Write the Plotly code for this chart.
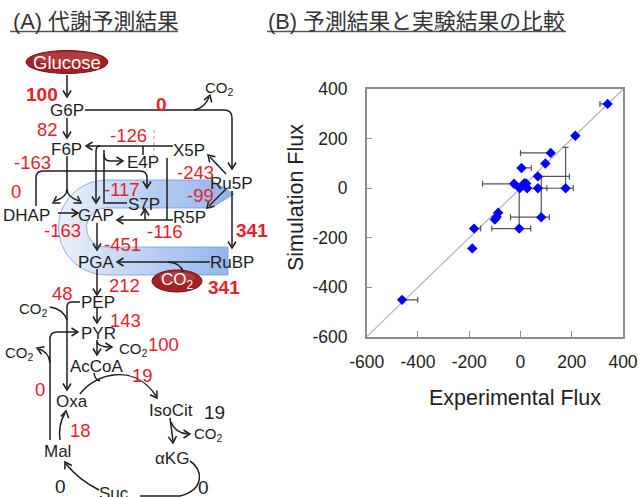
import numpy as np
import plotly.graph_objects as go

# ---------------- data ----------------
# simulated fluxes of the reactions drawn on the pathway map
reactions = ["glc_uptake", "g6p_co2", "g6p_f6p", "tk_f6p", "ald_f6p", "dhap_s7p",
             "ta_s7p", "ru5p_x5p", "ru5p_r5p", "tpi", "tk_gap", "gap_pga",
             "prk", "pga_pep", "rubisco", "pepc", "pyk", "pdh", "cs", "me",
             "mdh", "idh", "akg_suc", "suc_mal"]
sim_flux = [100, 0, 82, -126, -163, 0,
            -117, -243, -99, -163, -116, -451,
            341, 212, 341, 48, 143, 100, 19, 0,
            18, 19, 0, 0]

# reactions compared with experiments, and the measured fluxes
cmp_rxn = ["rubisco", "pga_pep", "pyk", "pdh", "g6p_f6p", "pepc", "mdh", "cs", "idh",
           "g6p_co2", "dhap_s7p", "me", "suc_mal", "ta_s7p", "ald_f6p",
           "ru5p_r5p", "tk_gap", "tk_f6p", "tpi", "ru5p_x5p", "gap_pga"]
exp_flux = [340, 214, 118, 97, 4, 68, -25, 14, 22,
            -3, 26, 68, 176, 81, -5,
            -87, -93, -100, -181, -188, -462]
exp_err_minus = [30, 0, 118, 0, 0, 0, 123, 0, 0,
                 0, 0, 35, 110, 120, 107,
                 0, 0, 0, 0, 0, 0]
exp_err_plus = [0, 0, 0, 0, 38, 123, 0, 0, 0,
                0, 0, 35, 30, 32, 45,
                0, 0, 0, 26, 0, 61]
sim_err_plus = [0, 0, 0, 0, 0, 0, 0, 0, 0,
                0, 0, 0, 165, 164, 164,
                0, 0, 0, 0, 0, 0]
sim_cmp = [sim_flux[reactions.index(r)] for r in cmp_rxn]

axis_ticks = [-600, -400, -200, 0, 200, 400]
axis_tick_text = ["-600", "-400", "-200", "0", "200", "400"]

# ---------------- styling ----------------
FONT = "Liberation Sans, Arial, Noto Sans CJK JP, sans-serif"
RED = "#e3222b"
INK = "#1e1e1e"
W, H = 638, 497

shapes = []
annotations = []


def stroke(path, width=1.5, color=INK, dash=None):
    line = dict(color=color, width=width)
    if dash:
        line["dash"] = dash
    shapes.append(dict(type="path", path=path, xref="x2", yref="y2", line=line))


def head(tip, direction, size=6.5, spread=0.62):
    tx, ty = tip
    dx, dy = direction
    n = (dx * dx + dy * dy) ** 0.5
    dx, dy = dx / n, dy / n
    bx, by = tx - dx * size, ty - dy * size
    px, py = -dy * size * spread, dx * size * spread
    stroke(f"M{bx + px:.1f},{by + py:.1f} L{tx:.1f},{ty:.1f} L{bx - px:.1f},{by - py:.1f}")


def text(s, x, y, size=17, color=INK, bold=False, xanchor="center", angle=0):
    annotations.append(dict(
        text=f"<b>{s}</b>" if bold else s, x=x, y=y, xref="x2", yref="y2",
        showarrow=False, xanchor=xanchor, yanchor="middle", textangle=angle,
        font=dict(family=FONT, size=size, color=color)))


fig = go.Figure()

# ---------------- Calvin-cycle band (U-shaped arrow) ----------------
cx, cy, ro, ri = 106, 227.5, 47.5, 19.5
t_in = np.linspace(-np.pi / 2, -3 * np.pi / 2, 40)
t_out = np.linspace(np.pi / 2, 3 * np.pi / 2, 50)
bx = ([cx, 211, 234, 211] + list(cx + ri * np.cos(t_in)) + [228, 228]
      + list(cx + ro * np.cos(t_out)))
by = ([cy - ro, cy - ro, (2 * cy - ro - ri) / 2, cy - ri] + list(cy + ri * np.sin(t_in))
      + [cy + ri, cy + ro] + list(cy + ro * np.sin(t_out)))
fig.add_trace(go.Scatter(
    x=bx, y=by, xaxis="x2", yaxis="y2", mode="lines", fill="toself",
    line=dict(color="rgba(110,150,215,0.75)", width=1),
    fillgradient=dict(type="horizontal", colorscale=[
        [0, "rgba(236,242,252,1)"], [0.35, "rgba(200,217,245,1)"], [1, "rgba(145,180,236,1)"]]),
    hoverinfo="skip"))

# ---------------- comparison scatter ----------------
fig.add_trace(go.Scatter(
    x=[-600, 400], y=[-600, 400], mode="lines",
    line=dict(color="#b4b4b4", width=1.2), hoverinfo="skip"))
fig.add_trace(go.Scatter(
    x=exp_flux, y=sim_cmp, mode="markers",
    marker=dict(symbol="diamond", size=8, color="#0000ff"),
    error_x=dict(type="data", symmetric=False, array=exp_err_plus,
                 arrayminus=exp_err_minus, color="#555", thickness=1.2, width=3),
    error_y=dict(type="data", symmetric=False, array=sim_err_plus,
                 arrayminus=[0] * len(sim_err_plus), color="#555", thickness=1.2, width=3)))

# ---------------- pathway map: substrate ellipses ----------------
for (x0, x1, y0, y1) in [(26, 108, 50.5, 73.5), (152, 202, 270, 292)]:
    shapes.append(dict(type="circle", xref="x2", yref="y2", x0=x0, x1=x1, y0=y0, y1=y1,
                       fillcolor="#a51f24", line=dict(color="#7a1518", width=1)))
    shapes.append(dict(type="circle", xref="x2", yref="y2", x0=x0 + 7, x1=x1 - 7,
                       y0=y0 + 1.5, y1=y0 + (y1 - y0) * 0.6,
                       fillcolor="rgba(255,255,255,0.13)", line=dict(width=0)))

# ---------------- pathway map: reaction arrows ----------------
stroke("M67,75 L67,95"); head((67, 97), (0, 1))
stroke("M67,118 L67,136"); head((67, 138), (0, 1))
stroke("M85,110 L224,110 Q232,110 232,118 L232,167"); head((232, 169), (0, 1))
stroke("M194,110 Q205,108 209,97"); head((210, 95), (0.35, -1))
stroke("M173,146 L88,146"); head((86, 146), (-1, 0))
stroke("M154,130 L154,157", width=1, color="#9a9a9a", dash="dot")
stroke("M143,146 L143,155")
stroke("M100,146 Q96,146 96,151 L96,201"); head((96, 203), (0, 1))
stroke("M104,150 L104,203 L127,203")
stroke("M104,154 Q104,161 110,161 L121,161"); head((123, 161), (1, 0))
stroke("M67,156 L67,189 Q67,197 55,201"); head((53, 203), (-1, 0.6))
stroke("M67,189 Q67,197 79,201"); head((81, 203), (1, 0.6))
stroke("M58,213 L76,213"); head((78, 213), (1, 0))
stroke("M36,206 L36,178 Q36,171 43,171 L140,171 Q147,171 147,178 L147,186"); head((147, 188), (0, 1))
stroke("M167,158 L167,220")
stroke("M173,220 L119,220"); head((117, 220), (-1, 0))
stroke("M145,220 L145,211"); head((145, 209), (0, -1))
stroke("M226,174 L210,157"); head((208, 155), (-1, -1))
stroke("M226,189 L209,206"); head((207, 208), (-1, 1))
stroke("M232,191 L232,246"); head((232, 248), (0, 1))
stroke("M97,223 L97,248"); head((97, 250), (0, 1))
stroke("M210,262 L119,262"); head((117, 262), (-1, 0))
stroke("M183,272 Q181,263 168,262")
stroke("M97,269 L97,293"); head((97, 295), (0, 1))
stroke("M80,302 L72,302 Q67,302 67,307 L67,388"); head((67, 390), (0, 1))
stroke("M50,307 Q63,309 67,320")
stroke("M97,308 L97,321"); head((97, 323), (0, 1))
stroke("M50,440 L50,339 Q50,332 57,332 L76,332"); head((78, 332), (1, 0))
stroke("M50,363 Q49,352 39,349"); head((37, 348), (-1, -0.4))
stroke("M97,340 L97,353"); head((97, 355), (0, 1))
stroke("M97,342 Q99,347 110,347"); head((112, 347), (1, 0))
stroke("M80,394 C95,373 135,363 156,396"); head((157, 398), (0.55, 0.85))
stroke("M94,373 Q95,380 100,381")
stroke("M170,418 L173,441"); head((173, 443), (0.1, 1))
stroke("M171,422 Q175,433 188,434"); head((190, 434), (1, 0))
stroke("M190,461 C204,470 204,490 180,496 L140,496")
stroke("M99,490 Q79,480 66,464"); head((65, 462), (-0.6, -1))
stroke("M60,440 Q58,425 65,413"); head((66, 411), (0.2, -1))

# ---------------- pathway map: metabolites ----------------
node_names = ["G6P", "F6P", "E4P", "X5P", "DHAP", "GAP", "S7P", "R5P", "Ru5P", "PGA",
              "RuBP", "PEP", "PYR", "AcCoA", "Oxa", "IsoCit", "αKG", "Mal", "Suc"]
node_xy = [(67, 110), (66, 149), (143, 162), (189, 150), (26, 215), (96, 215), (144, 204),
           (189, 217), (231, 183), (96, 262), (232, 262), (98, 302), (98, 333), (97, 366),
           (72, 401), (171, 410), (172, 458), (57, 451), (114, 493)]
for name, (x, y) in zip(node_names, node_xy):
    text(name, x, y, size=17)

co2_xy = [(219, 88), (33, 309), (19, 353), (133, 349), (208, 434)]
for (x, y) in co2_xy:
    text("CO<sub>2</sub>", x, y, size=15)

text("Glucose", 67, 62, size=18.5, color="white")
text("CO<sub>2</sub>", 177, 281, size=17, color="white")

# flux labels: reaction, position, style
flux_labels = [
    ("glc_uptake", 42, 94, "bold"), ("g6p_co2", 161, 104, "bold"),
    ("g6p_f6p", 47, 129, "red"), ("tk_f6p", 128, 135, "red"),
    ("ald_f6p", 32, 162, "red"), ("dhap_s7p", 16, 191, "red"),
    ("ta_s7p", 122, 189, "red"), ("ru5p_x5p", 195, 172, "red"),
    ("ru5p_r5p", 200, 195, "red"), ("tpi", 62, 230, "red"),
    ("tk_gap", 165, 231, "red"), ("gap_pga", 122, 244, "red"),
    ("prk", 252, 230, "bold"), ("pga_pep", 124, 285, "red"),
    ("rubisco", 224, 287, "bold"), ("pepc", 62, 293, "red"),
    ("pyk", 125, 320, "red"), ("pdh", 163, 344, "red"),
    ("cs", 142, 375, "red"), ("me", 40, 389, "red"),
    ("mdh", 80, 430, "red"), ("idh", 214, 412, "black"),
    ("akg_suc", 203, 487, "black"), ("suc_mal", 60, 486, "black"),
]
for rxn, x, y, style in flux_labels:
    v = sim_flux[reactions.index(rxn)]
    if style == "bold":
        text(str(v), x, y, size=19, color=RED, bold=True)
    elif style == "red":
        text(str(v), x, y, size=18.5, color=RED)
    else:
        text(str(v), x, y, size=19, color=INK)

# ---------------- panel titles ----------------
text("(A) 代謝予測結果", 11, 21, size=21.8, color="#333", xanchor="left")
text("(B) 予測結果と実験結果の比較", 266, 21, size=21.8, color="#333", xanchor="left")
for (x0, x1) in [(10, 178), (267, 566)]:
    shapes.append(dict(type="line", xref="x2", yref="y2", x0=x0, x1=x1, y0=31.5, y1=31.5,
                       line=dict(color="#555", width=1.5)))

# axis titles
text("Experimental Flux", 515, 398, size=21.5, color="#222")
text("Simulation Flux", 296, 198, size=21.5, color="#222", angle=-90)

axis_common = dict(
    range=[-600, 400], tickvals=axis_ticks, ticktext=axis_tick_text,
    ticks="inside", ticklen=6, tickcolor="#8c8c8c", tickwidth=1,
    showline=True, linecolor="#8c8c8c", linewidth=1.5, mirror=True,
    showgrid=False, zeroline=False, automargin=False,
    tickfont=dict(family=FONT, size=17.5, color="#222"))

fig.update_layout(
    width=W, height=H, margin=dict(l=0, r=0, t=0, b=0, pad=0, autoexpand=False),
    paper_bgcolor="white", plot_bgcolor="rgba(0,0,0,0)", showlegend=False,
    xaxis=dict(domain=[366.7 / W, 623 / W], anchor="y", ticklabelstandoff=9, **axis_common),
    yaxis=dict(domain=[1 - 336.7 / H, 1 - 89.3 / H], anchor="x", ticklabelstandoff=14, **axis_common),
    xaxis2=dict(domain=[0, 1], range=[0, W], visible=False, anchor="y2", fixedrange=True,
                automargin=False),
    yaxis2=dict(domain=[0, 1], range=[H, 0], visible=False, anchor="x2", fixedrange=True,
                automargin=False),
    shapes=shapes, annotations=annotations,
)

fig.write_html("out.html", config={"displayModeBar": False})
